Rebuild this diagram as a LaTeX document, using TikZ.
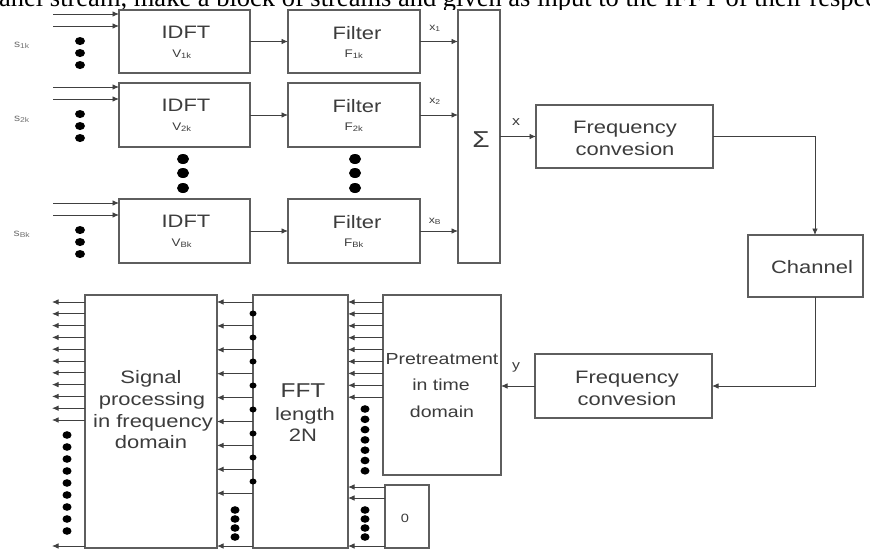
\documentclass[tikz,border=0pt]{standalone}
\usepackage{fontspec}
\setmainfont{Liberation Sans}
\newfontfamily\serifont{Liberation Serif}
\usetikzlibrary{arrows.meta,calc}
\newcommand\hs[1]{\scalebox{1.22}[1]{#1}}
\definecolor{boxc}{HTML}{5E5E5E}
\definecolor{txtc}{HTML}{3C3C3C}
\definecolor{lblc}{HTML}{707070}
\begin{document}
\begin{tikzpicture}[x=1pt,y=-1pt,
  blk/.style={draw=boxc,line width=1.4pt,fill=white,inner sep=0pt,outer sep=0pt},
  wh/.style 2 args={minimum width=#1pt,minimum height=#2pt},
  arr/.style={draw=black!75,line width=0.9pt,-{Latex[length=6.5pt,width=5.5pt]}},
  t18/.style={anchor=base,inner sep=0pt,text=txtc,font=\fontsize{18}{21}\selectfont},
  t16/.style={anchor=base,inner sep=0pt,text=txtc,font=\fontsize{16}{19}\selectfont},
  t11/.style={anchor=base,inner sep=0pt,text=txtc,font=\fontsize{11}{13}\selectfont},
  t10/.style={anchor=base,inner sep=0pt,text=txtc,font=\fontsize{10}{12}\selectfont},
  sl/.style={anchor=base,inner sep=0pt,text=lblc,font=\fontsize{10}{12}\selectfont},
  dotc/.style={fill=black},
]
\useasboundingbox (0,0) rectangle (870,550);
% cut-off line of text at the top
\begin{scope}
\clip (0,0) rectangle (870,9.5);
\node[anchor=base west,inner sep=0pt,font=\serifont\fontsize{26.5}{30}\selectfont] (toptext) at (-1,6.5) {anel stream, make a block of streams and given as input to the IFFT of their respective};
\end{scope}

% ---- boxes ----
\node[blk,wh={131}{63}] (idft1) at (184.5,41.5) {};
\node[blk,wh={131}{64}] (idft2) at (184.5,115) {};
\node[blk,wh={131}{64}] (idft3) at (184.5,231) {};
\node[blk,wh={132}{63}] (filt1) at (354,41.5) {};
\node[blk,wh={132}{64}] (filt2) at (354,115) {};
\node[blk,wh={132}{64}] (filt3) at (354,231) {};
\node[blk,wh={42}{253}] (sum) at (479,136.5) {};
\node[blk,wh={177}{63}] (fc1) at (624.5,136.5) {};
\node[blk,wh={115}{62}] (chan) at (805.5,266) {};
\node[blk,wh={177}{64}] (fc2) at (623.5,386) {};
\node[blk,wh={118}{180}] (pre) at (442,385) {};
\node[blk,wh={44}{63}] (zero) at (407,516.5) {};
\node[blk,wh={95}{253}] (fft) at (300.5,421.5) {};
\node[blk,wh={132}{253}] (sig) at (151,421.5) {};

% ---- texts ----
\foreach \b/\tp/\s/\xb in {1/10/1/30,2/83/2/103,3/199/B/223} {
  \node[t18] (idt\b) at (186,\tp+28.5) {\hs{IDFT}};
  \node[t11] (vt\b) at (182,\tp+47) {\hs{V\textsubscript{\s k}}};
  \node[t18] (flt\b) at (357,\tp+29) {\hs{Filter}};
  \node[t11] (fs\b) at (354,\tp+47) {\hs{F\textsubscript{\s k}}};
  \node[t10] (xl\b) at (435,\xb) {\hs{x\textsubscript{\s}}};
}
\node[sl] (s1) at (22,47) {\hs{s\textsubscript{1k}}};
\node[sl] (s2) at (22,121) {\hs{s\textsubscript{2k}}};
\node[sl] (s3) at (22,236) {\hs{s\textsubscript{Bk}}};
\node[t18,font=\fontsize{23}{25}\selectfont] (sigma) at (481,147) {\hs{Σ}};
\node[t18] (fc1a) at (625,133) {\hs{Frequency}};
\node[t18] (fc1b) at (625,155) {\hs{convesion}};
\node[t18] (chant) at (812,273) {\hs{Channel}};
\node[t18] (fc2a) at (627,383) {\hs{Frequency}};
\node[t18] (fc2b) at (627,405) {\hs{convesion}};
\node[t16] (pr1) at (442,364) {\hs{Pretreatment}};
\node[t16] (pr2) at (441,390) {\hs{in time}};
\node[t16] (pr3) at (442,417) {\hs{domain}};
\node[t18,font=\fontsize{20}{22}\selectfont] (ff1) at (303,397) {\hs{FFT}};
\node[t18] (ff2) at (305,420) {\hs{length}};
\node[t18] (ff3) at (303,441) {\hs{2N}};
\node[t18] (sp1) at (151,383) {\hs{Signal}};
\node[t18] (sp2) at (152,405) {\hs{processing}};
\node[t18] (sp3) at (153,427) {\hs{in frequency}};
\node[t18] (sp4) at (151,448) {\hs{domain}};
\node[t11,font=\fontsize{13}{15}\selectfont] (xlab) at (516,125) {\hs{x}};
\node[t11,font=\fontsize{13}{15}\selectfont] (ylab) at (516,369) {\hs{y}};
\node[t11,font=\fontsize{12}{14}\selectfont] (zt) at (405,522) {\hs{0}};

% ---- transmitter connectors ----
\foreach \b/\tp in {1/10,2/83,3/199} {
  \coordinate (ia\b) at (53,\tp+4);
  \coordinate (ib\b) at (53,\tp+16);
  \draw[arr] (ia\b) -- (ia\b -| idft\b.west);
  \draw[arr] (ib\b) -- (ib\b -| idft\b.west);
  \foreach \k in {0,1,2} {\fill[dotc] (80,\tp+31+12*\k) ellipse [x radius=5pt,y radius=4pt];}
  \draw[arr] (idft\b.east) -- (filt\b.west);
  \draw[arr] (filt\b.east) -- (filt\b.east -| sum.west);
}
\foreach \yy in {159,173,188} {
  \fill[dotc] (183,\yy) ellipse [x radius=6pt,y radius=5pt];
  \fill[dotc] (355,\yy) ellipse [x radius=6pt,y radius=5pt];
}
\draw[arr] (sum.east |- fc1.west) -- (fc1.west);
\draw[arr] (fc1.east) -| ($(chan.north)+(9.5,0)$);
\draw[arr] ($(chan.south)+(9.5,0)$) |- (fc2.east);
\draw[arr] (fc2.west) -- (fc2.west -| pre.east);

% ---- pretreatment -> FFT ----
\foreach \i in {0,...,8} {
  \pgfmathsetmacro\yy{302+11.9*\i}
  \coordinate (pa\i) at (0,\yy);
  \draw[arr] (pre.west |- pa\i) -- (fft.east |- pa\i);
}
\foreach \k in {0,...,6} {\fill[dotc] (365,409+10.3*\k) ellipse [x radius=4.5pt,y radius=3.8pt];}
\foreach \yy [count=\c] in {487,498,546} {
  \coordinate (za\c) at (0,\yy);
  \draw[arr] (zero.west |- za\c) -- (fft.east |- za\c);
}
\foreach \yy in {510,519,528,537} {\fill[dotc] (365,\yy) ellipse [x radius=4.5pt,y radius=3.8pt];}

% ---- FFT -> signal processing ----
\foreach \i in {0,...,8} {
  \pgfmathsetmacro\yy{302+23.9*\i}
  \coordinate (fa\i) at (0,\yy);
  \draw[arr] (fft.west |- fa\i) -- (sig.east |- fa\i);
}
\foreach \i in {0,...,7} {
  \pgfmathsetmacro\yy{313.5+24*\i}
  \coordinate (fd\i) at (0,\yy);
  \fill[dotc] (fft.west |- fd\i) ellipse [x radius=3.5pt,y radius=3pt];
}
\foreach \yy in {510,519,528,537} {\fill[dotc] (235,\yy) ellipse [x radius=4.5pt,y radius=3.8pt];}
\coordinate (fb) at (0,546);
\draw[arr] (fft.west |- fb) -- (sig.east |- fb);

% ---- signal processing outputs ----
\foreach \i in {0,...,10} {
  \pgfmathsetmacro\yy{302+11.8*\i}
  \coordinate (o\i) at (52,\yy);
  \draw[arr] (sig.west |- o\i) -- (o\i);
}
\foreach \k in {0,...,8} {\fill[dotc] (67,435+12*\k) ellipse [x radius=4.5pt,y radius=3.8pt];}
\coordinate (ob) at (52,546);
\draw[arr] (sig.west |- ob) -- (ob);
\end{tikzpicture}
\end{document}
